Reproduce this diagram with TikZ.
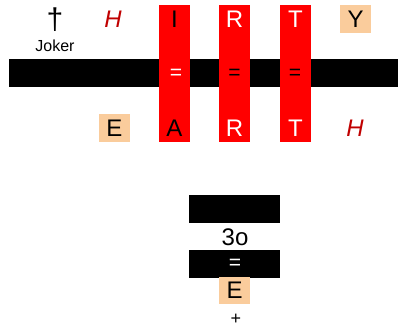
\documentclass[tikz,border=0pt]{standalone}
\usepackage{fontspec}
\setmainfont{Liberation Sans}
\definecolor{peach}{RGB}{250,204,156}
\definecolor{darkred}{RGB}{192,0,0}

\begin{document}
\begin{tikzpicture}[x=1pt, y=-1pt,
    letter/.style={inner sep=0pt, font=\fontsize{24}{24}\selectfont},
    small/.style={inner sep=0pt, font=\fontsize{21}{21}\selectfont},
    strip/.style={fill=red, inner sep=0pt, minimum width=31pt, minimum height=137pt},
    blackbar/.style={fill=black, inner sep=0pt, minimum height=28pt},
    peachbox/.style={fill=peach, inner sep=0pt, minimum width=31pt, minimum height=28pt}]
                \useasboundingbox (0,0) rectangle (398,327);

                % Bars and boxes
                \node[blackbar, minimum width=389pt] (bar) at (203.5,73) {};
                \node[strip] (stripI) at (174.5,73.5) {};
                \node[strip] (stripR) at (234.5,73.5) {};
                \node[strip] (stripT) at (295.5,73.5) {};
                \node[peachbox] (boxY) at (355.5,19) {};
                \node[peachbox] (boxE) at (114.5,128) {};
                \node[blackbar, minimum width=91pt] (topbox) at (234.5,209) {};
                \node[blackbar, minimum width=91pt] (eqbox) at (234.5,264) {};
                \node[peachbox, minimum height=27pt] (boxE2) at (234.5,290.5) {};

                % Top row
                \node[inner sep=0pt, font=\fontsize{30}{30}\selectfont] (dagger) at (55,20) {†};
                \node[inner sep=0pt, font=\fontsize{16}{16}\selectfont] (joker) at (55,46) {Joker};
                \node[letter, darkred, font=\fontsize{24}{24}\itshape] (h1) at (113,19) {H};
                \node[letter] (i) at (174.5,19) {I};
                \node[letter, white] (r1) at (234.5,19) {R};
                \node[letter, white] (t1) at (295.5,19) {T};
                \node[letter] (y) at (355.5,19) {Y};

                % Middle row
                \node[small, white] (eq1) at (176,74) {=};
                \node[small] (eq2) at (234.5,74) {=};
                \node[small] (eq3) at (295,74) {=};

                % Bottom row
                \node[letter] (e1) at (114.5,128) {E};
                \node[letter] (a) at (174.5,128) {A};
                \node[letter, white] (r2) at (234.5,128) {R};
                \node[letter, white] (t2) at (295.5,128) {T};
                \node[letter, darkred, font=\fontsize{24}{24}\itshape] (h2) at (355,128) {H};

                % Lower stack
                \node[letter] (thirty) at (235,237) {3o};
                \node[small, white] (eq4) at (235,264) {=};
                \node[letter] (e2) at (234.5,290.5) {E};
                \node[small, font=\fontsize{18}{18}\selectfont] (plus) at (236,319) {+};
            \end{tikzpicture}
\end{document}
